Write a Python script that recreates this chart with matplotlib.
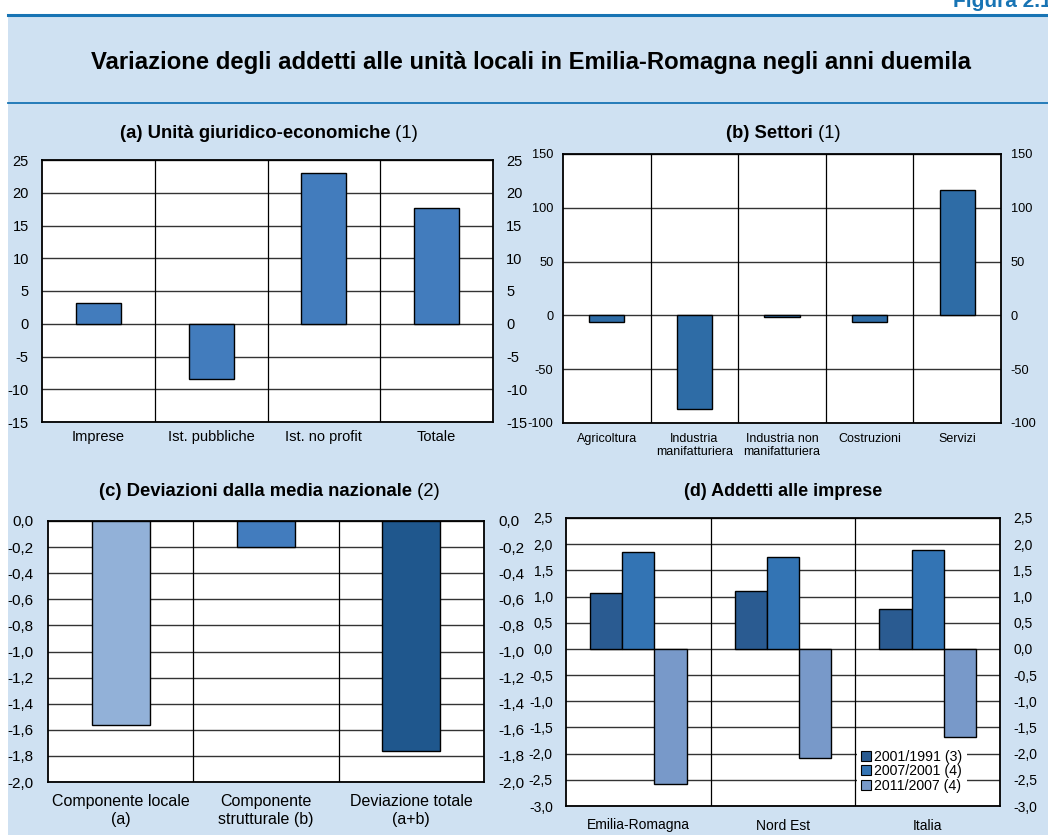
import matplotlib

matplotlib.use("Agg")
import matplotlib.pyplot as plt
import numpy as np
from matplotlib.lines import Line2D
from matplotlib.patches import Rectangle

plt.rcParams["font.family"] = ["Liberation Sans", "DejaVu Sans"]
plt.rcParams["axes.unicode_minus"] = False

W, H = 1048, 835

# (a) Unità giuridico-economiche
cat_a = ["Imprese", "Ist. pubbliche", "Ist. no profit", "Totale"]
val_a = [3.2, -8.5, 23.0, 17.6]
ticks_a = [-15, -10, -5, 0, 5, 10, 15, 20, 25]

# (b) Settori
cat_b = ["Agricoltura", "Industria\nmanifatturiera", "Industria non\nmanifatturiera",
         "Costruzioni", "Servizi"]
val_b = [-5.9, -86.7, -1.2, -6.2, 116.8]
ticks_b = [-100, -50, 0, 50, 100, 150]

# (c) Deviazioni dalla media nazionale
cat_c = ["Componente locale\n(a)", "Componente\nstrutturale (b)", "Deviazione totale\n(a+b)"]
val_c = [-1.56, -0.20, -1.765]
ticks_c = [0.0, -0.2, -0.4, -0.6, -0.8, -1.0, -1.2, -1.4, -1.6, -1.8, -2.0]

# (d) Addetti alle imprese
cat_d = ["Emilia-Romagna", "Nord Est", "Italia"]
series_d = ["2001/1991 (3)", "2007/2001 (4)", "2011/2007 (4)"]
val_d_1991 = [1.07, 1.11, 0.76]
val_d_2001 = [1.86, 1.76, 1.89]
val_d_2007 = [-2.58, -2.09, -1.69]
ticks_d = [-3.0, -2.5, -2.0, -1.5, -1.0, -0.5, 0.0, 0.5, 1.0, 1.5, 2.0, 2.5]

BG = "#CFE1F2"
LINE_BLUE = "#1874B4"


def px_axes(fig, l, t, r, b):
    return fig.add_axes([l / W, 1 - b / H, (r - l) / W, (b - t) / H])


def comma(v, nd=1):
    return f"{v:.{nd}f}".replace(".", ",")


def style_axes(ax, n, yticks, ylabels, ylim, tick_size, ypad, xpad, xsize):
    ax.set_xlim(-0.5, n - 0.5)
    ax.set_ylim(*ylim)
    ax.set_yticks(yticks)
    ax.set_yticklabels(ylabels)
    ax.tick_params(axis="y", length=0, labelsize=tick_size, pad=ypad,
                   labelright=True, right=False)
    ax.tick_params(axis="x", length=0, labelsize=xsize, pad=xpad)
    ax.set_axisbelow(True)
    for y in yticks:
        ax.axhline(y, color="#333333", lw=1.0, zorder=1)
    for x in np.arange(0.5, n - 0.5, 1.0):
        ax.axvline(x, color="black", lw=0.9, zorder=1)
    for s in ax.spines.values():
        s.set_linewidth(1.3)
        s.set_color("black")
        s.set_zorder(4)
    ax.set_facecolor("white")


def panel_title(fig, xc, yc, bold, normal, size):
    r = fig.canvas.get_renderer()
    t1 = fig.text(0, 1 - yc / H, bold, ha="left", va="center", weight="bold", size=size)
    t2 = fig.text(0, 1 - yc / H, normal, ha="left", va="center", size=size)
    w1 = t1.get_window_extent(r).width
    w2 = t2.get_window_extent(r).width if normal else 0
    x0 = xc - (w1 + w2) / 2
    t1.set_x(x0 / W)
    t2.set_x((x0 + w1) / W)


fig = plt.figure(figsize=(W / 100, H / 100), dpi=100)
fig.patch.set_facecolor("white")
fig.add_artist(Rectangle((8 / W, 0), 1, 1 - 16 / H, transform=fig.transFigure,
                         facecolor=BG, edgecolor="none", zorder=0))
fig.add_artist(Line2D([8 / W, 1], [1 - 15 / H] * 2, color=LINE_BLUE, lw=2.2))
fig.add_artist(Line2D([8 / W, 1], [1 - 103 / H] * 2, color=LINE_BLUE, lw=1.3))
fig.text(953 / W, 1 - 7 / H, "Figura 2.1", color=LINE_BLUE, weight="bold",
         size=15, ha="left", va="baseline")
fig.text(531 / W, 1 - 63 / H,
         "Variazione degli addetti alle unità locali in Emilia-Romagna negli anni duemila",
         ha="center", va="center", weight="bold", size=17.2)

# panel (a)
ax = px_axes(fig, 42, 160, 493, 422)
x = np.arange(len(cat_a))
ax.bar(x, val_a, width=0.4, color="#427CBD", edgecolor="black", lw=1.0, zorder=3)
style_axes(ax, len(cat_a), ticks_a, [str(t) for t in ticks_a], (-15, 25),
           10.5, 9.5, 6, 10.5)
ax.set_xticks(x)
ax.set_xticklabels(cat_a)
panel_title(fig, 269, 133, "(a) Unità giuridico-economiche", " (1)", 13.3)

# panel (b)
ax = px_axes(fig, 563, 154, 1001, 423)
x = np.arange(len(cat_b))
ax.bar(x, val_b, width=0.4, color="#2E6CA6", edgecolor="black", lw=1.0, zorder=3)
style_axes(ax, len(cat_b), ticks_b, [str(t) for t in ticks_b], (-100, 150),
           9.2, 7, 7, 9)
ax.set_xticks(x)
ax.set_xticklabels(cat_b, linespacing=1.1)
panel_title(fig, 783, 133, "(b) Settori", " (1)", 13.2)

# panel (c)
ax = px_axes(fig, 48, 521, 484, 782)
x = np.arange(len(cat_c))
ax.bar(x, val_c, width=0.4, color=["#92B1D8", "#427CBE", "#1F578D"],
       edgecolor="black", lw=1.0, zorder=3)
style_axes(ax, len(cat_c), ticks_c, [comma(t) for t in ticks_c], (-2.0, 0.0),
           11, 10.5, 8.5, 11.5)
ax.set_xticks(x)
ax.set_xticklabels(cat_c, linespacing=1.25)
panel_title(fig, 269, 491, "(c) Deviazioni dalla media nazionale", " (2)", 13.3)

# panel (d)
ax = px_axes(fig, 566, 518, 1000, 806)
x = np.arange(len(cat_d))
bw = 0.2235
colors_d = ["#2A5B91", "#3374B4", "#7899C9"]
for i, (vals, lab) in enumerate(zip([val_d_1991, val_d_2001, val_d_2007], series_d)):
    ax.bar(x + (i - 1) * bw, vals, width=bw, color=colors_d[i], edgecolor="black",
           lw=1.0, zorder=3, label=lab)
style_axes(ax, len(cat_d), ticks_d, [comma(t) for t in ticks_d], (-3.0, 2.5),
           10, 9.5, 9, 10)
ax.set_xticks(x)
ax.set_xticklabels(cat_d)
leg = ax.legend(loc="lower left", bbox_to_anchor=(0.67, 0.03), fontsize=10.2,
                frameon=True, fancybox=False, facecolor="white", edgecolor="none",
                framealpha=1, handlelength=0.7, handleheight=0.7, handletextpad=0.25,
                borderpad=0.3, labelspacing=0.05, borderaxespad=0)
leg.set_zorder(6)
for h in leg.legend_handles:
    h.set_linewidth(0.8)
panel_title(fig, 783, 491, "(d) Addetti alle imprese", "", 13)

fig.savefig("out.png", dpi=100, facecolor=fig.get_facecolor())
